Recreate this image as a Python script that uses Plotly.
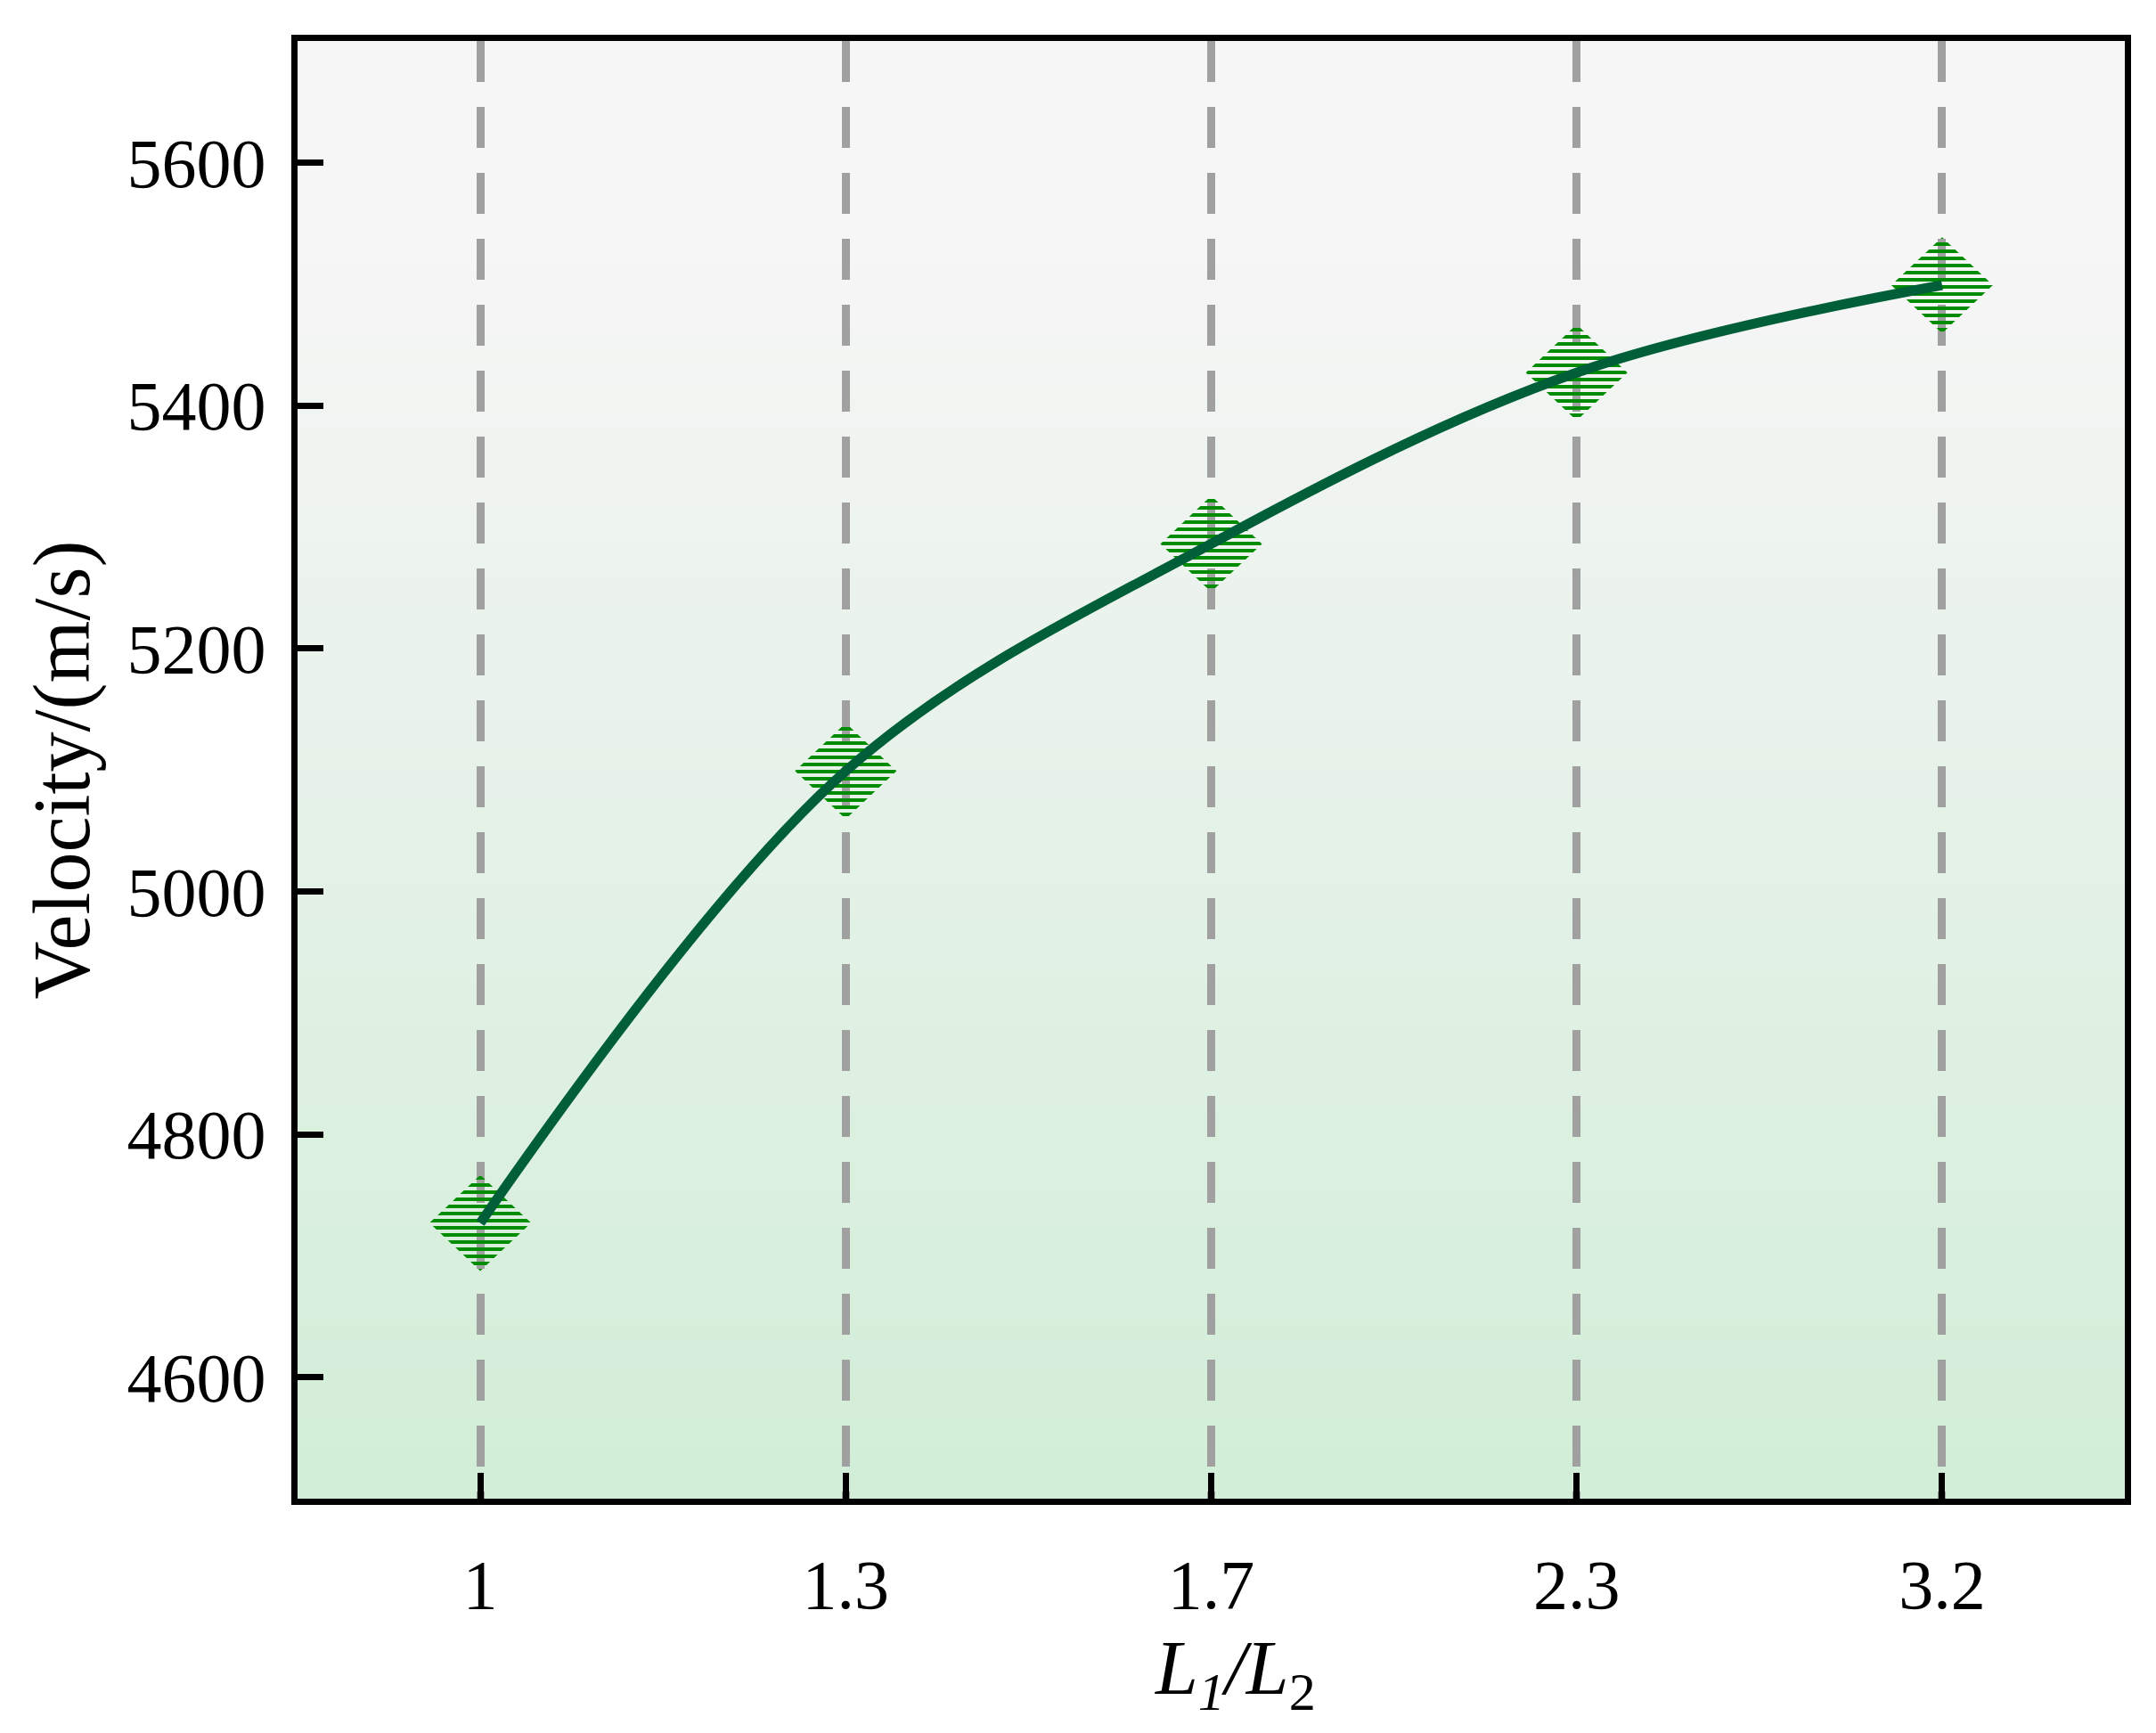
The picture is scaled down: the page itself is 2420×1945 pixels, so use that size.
import numpy as np
import plotly.graph_objects as go

# ── DATA ──────────────────────────────────────────────────────────────────────

RATIO_LABELS = ["1", "1.3", "1.7", "2.3", "3.2"]
VELOCITY = [4727, 5099, 5286, 5427, 5499]
Y_TICKS = [4600, 4800, 5000, 5200, 5400, 5600]

# ── STYLE ─────────────────────────────────────────────────────────────────────

FONT = "Liberation Serif"
LINE_COLOUR = "#005f38"
MARK_COLOUR = "#008c00"
GRID_COLOUR = "#a0a0a0"
BG_TOP = np.array([246, 246, 246])
BG_BOT = np.array([210, 238, 216])

Y_RANGE = [4500, 5700]
X_RANGE = [-0.5, 4.5]

# diamond half-size in data units (about 57 px wide, 54 px tall)
DX = 0.139
DY = 39.5

# ── FIGURE ────────────────────────────────────────────────────────────────────

x_idx = np.arange(len(RATIO_LABELS))

fig = go.Figure()

# hatched diamonds, one closed polygon per point
dx_pts, dy_pts = [], []
for xi, yi in zip(x_idx, VELOCITY):
    dx_pts += [xi - DX, xi, xi + DX, xi, xi - DX, None]
    dy_pts += [yi, yi + DY, yi, yi - DY, yi, None]

fig.add_trace(go.Scatter(
    x=dx_pts, y=dy_pts,
    mode="lines",
    fill="toself",
    fillcolor="rgba(0,0,0,0)",
    fillpattern=dict(shape="-", fgcolor=MARK_COLOUR, bgcolor="rgba(0,0,0,0)",
                     fgopacity=1, size=8, solidity=0.5, fillmode="replace"),
    line=dict(width=0, color="rgba(0,0,0,0)"),
    showlegend=False,
    hoverinfo="skip",
))

fig.add_trace(go.Scatter(
    x=x_idx, y=VELOCITY,
    mode="lines",
    line=dict(color=LINE_COLOUR, width=11, shape="spline", smoothing=1.0),
    showlegend=False,
))

# vertical gradient background drawn as thin paper-referenced bands
N_BANDS = 90
for i in range(N_BANDS):
    t = i / (N_BANDS - 1)          # 0 bottom -> 1 top
    s = min(1.0, t / 0.85)
    c = BG_BOT + (BG_TOP - BG_BOT) * s
    fig.add_shape(
        type="rect", xref="paper", yref="paper",
        x0=0, x1=1, y0=i / N_BANDS, y1=(i + 1) / N_BANDS + 0.002,
        fillcolor=f"rgb({int(c[0])},{int(c[1])},{int(c[2])})",
        line=dict(width=0), layer="below",
    )

# x title as annotation (sits a little right of centre in the reference)
fig.add_annotation(
    text="<i>L</i><sub><i>1</i></sub><i>/L</i><sub>2</sub>",
    xref="paper", yref="paper",
    x=0.513, y=-0.12,
    xanchor="center", yanchor="middle",
    showarrow=False,
    font=dict(size=86),
)

fig.update_layout(
    width=2420, height=1945,
    margin=dict(l=326, r=43, t=38, b=271),
    paper_bgcolor="white",
    plot_bgcolor="rgba(0,0,0,0)",
    font=dict(family=FONT, size=78, color="black"),
    xaxis=dict(
        range=X_RANGE,
        tickmode="array",
        tickvals=x_idx,
        ticktext=RATIO_LABELS,
        ticks="inside", ticklen=29, tickwidth=7, tickcolor="black",
        ticklabelstandoff=22,
        showline=True, linewidth=7, linecolor="black", mirror=True,
        showgrid=True, gridcolor=GRID_COLOUR, gridwidth=9,
        griddash="46px,28px",
        zeroline=False,
        layer="above traces",
    ),
    yaxis=dict(
        range=Y_RANGE,
        tickmode="array",
        tickvals=Y_TICKS,
        ticks="inside", ticklen=29, tickwidth=7, tickcolor="black",
        ticklabelstandoff=13,
        showline=True, linewidth=7, linecolor="black", mirror=True,
        showgrid=False, zeroline=False,
        title=dict(text="Velocity/(m/s)", font=dict(size=90), standoff=14),
    ),
)

fig.write_html("out.html")
